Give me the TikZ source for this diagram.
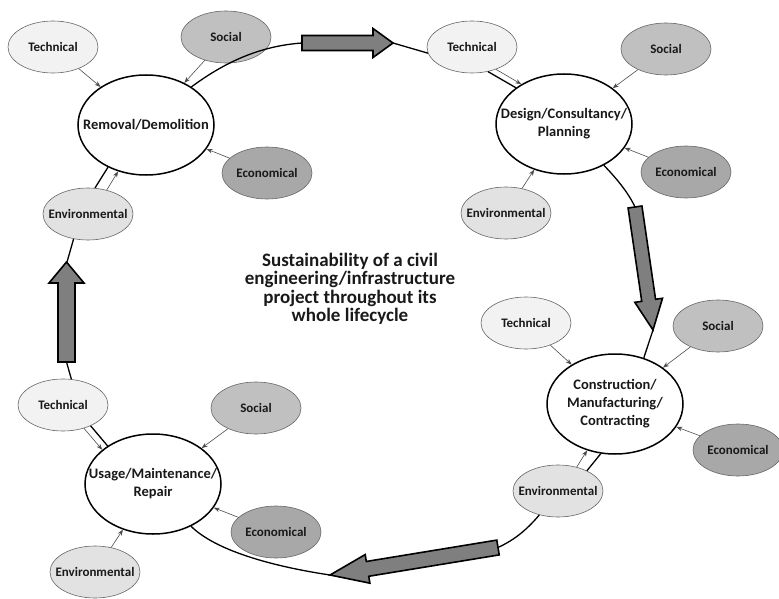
\documentclass[tikz,border=0pt]{standalone}
\usepackage{fontspec}
\setmainfont{Carlito}
\usetikzlibrary{shapes.geometric,arrows.meta}
\definecolor{techc}{HTML}{F2F2F2}
\definecolor{envc}{HTML}{E2E2E2}
\definecolor{socc}{HTML}{C0C0C0}
\definecolor{ecoc}{HTML}{A8A8A8}
\definecolor{arrc}{HTML}{7F7F7F}
\tikzset{
  mainell/.style={ellipse, draw=black, line width=1.5pt, fill=white, minimum width=136pt, minimum height=100pt, inner sep=0pt},
  mainlbl/.style={font=\fontsize{14.5}{18}\selectfont\bfseries, align=center, text=black!90},
  sat/.style={ellipse, draw=black!60, line width=0.6pt, minimum width=90pt, minimum height=52pt, inner sep=0pt},
  satlbl/.style={font=\fontsize{13}{15}\selectfont\bfseries, text=black!90},
  tech/.style={sat, fill=techc},
  soc/.style={sat, fill=socc},
  eco/.style={sat, fill=ecoc},
  env/.style={sat, fill=envc},
  cyc/.style={draw=black, line width=1.3pt},
  infl/.style={draw=black!70, line width=0.6pt, -{Stealth[length=6pt,width=4.5pt]}},
  blockarr/.style={draw=black, line width=1.6pt, fill=arrc, line join=miter}
}
\begin{document}
\begin{tikzpicture}[x=1pt,y=-1pt]
\useasboundingbox (0,0) rectangle (779,599);

% main stages
\node[mainell, label={[mainlbl]center:Removal/Demolition}] (rem) at (146,125) {};
\node[mainell, label={[mainlbl]center:Design/Consultancy/\\Planning}] (des) at (564,124) {};
\node[mainell, label={[mainlbl]center:Construction/\\Manufacturing/\\Contracting}] (con) at (615,404) {};
\node[mainell, label={[mainlbl]center:Usage/Maintenance/\\Repair}] (use) at (153,484) {};

% satellites: removal
\node[tech, label={[satlbl]center:Technical}] (rtech) at (53,47) {};
\node[soc, label={[satlbl]center:Social}] (rsoc) at (226,37) {};
\node[eco, label={[satlbl]center:Economical}] (reco) at (267,173) {};
\node[env, label={[satlbl]center:Environmental}] (renv) at (88,214) {};
% design
\node[tech, label={[satlbl]center:Technical}] (dtech) at (472,47) {};
\node[soc, label={[satlbl]center:Social}] (dsoc) at (666,49) {};
\node[eco, label={[satlbl]center:Economical}] (deco) at (686,172) {};
\node[env, label={[satlbl]center:Environmental}] (denv) at (506,213) {};
% construction
\node[tech, label={[satlbl]center:Technical}] (ctech) at (526,323) {};
\node[soc, label={[satlbl]center:Social}] (csoc) at (718,326) {};
\node[eco, label={[satlbl]center:Economical}] (ceco) at (738,450) {};
\node[env, label={[satlbl]center:Environmental}] (cenv) at (558,491) {};
% usage
\node[tech, label={[satlbl]center:Technical}] (utech) at (63,405) {};
\node[soc, label={[satlbl]center:Social}] (usoc) at (256,408) {};
\node[eco, label={[satlbl]center:Economical}] (ueco) at (276,532) {};
\node[env, label={[satlbl]center:Environmental}] (uenv) at (95,572) {};

% centre text
\node[font=\fontsize{19}{18.5}\selectfont\bfseries, align=center, text=black!90] (title) at (350,289)
  {Sustainability of a civil\\engineering/infrastructure\\project throughout its\\whole lifecycle};

% block arrows
\coordinate (tailT) at (302,43);   \coordinate (tipT) at (393,43);
\coordinate (tailR) at (635,207);  \coordinate (tipR) at (653,330);
\coordinate (tailB) at (498,547.5);\coordinate (tipB) at (330,575);
\coordinate (tailL) at (66.5,362); \coordinate (tipL) at (67,262);
\begin{scope}[shift={(tailT)}]
  \draw[blockarr] (0,7.5) -- (71,7.5) -- (71,14.5) -- (91,0) -- (71,-14.5) -- (71,-7.5) -- (0,-7.5) -- cycle;
\end{scope}
\begin{scope}[shift={(tailR)}, rotate=-81.67]
  \draw[blockarr] (0,7) -- (94.3,7) -- (94.3,14) -- (124.3,0) -- (94.3,-14) -- (94.3,-7) -- (0,-7) -- cycle;
\end{scope}
\begin{scope}[shift={(tailB)}, rotate=-170.7]
  \draw[blockarr] (0,7.5) -- (132.2,7.5) -- (132.2,14.5) -- (170.2,0) -- (132.2,-14.5) -- (132.2,-7.5) -- (0,-7.5) -- cycle;
\end{scope}
\begin{scope}[shift={(tailL)}, rotate=90]
  \draw[blockarr] (0,8.5) -- (79,8.5) -- (79,17.5) -- (100,0) -- (79,-17.5) -- (79,-8.5) -- (0,-8.5) -- cycle;
\end{scope}

% lifecycle connectors
\draw[cyc] (rem.40) .. controls (225,62) and (260,46) .. (tailT);
\draw[cyc] (tipT) -- (dtech.188);
\draw[cyc] (dtech.-57) -- (des.143);
\draw[cyc] (des.-46) .. controls (616,178) and (628,192) .. (tailR);
\draw[cyc] (tipR) -- (con.58);
\draw[cyc] (con.-106) -- (cenv.35);
\draw[cyc] (cenv.-128) .. controls (525,532) and (512,541) .. (tailB);
\draw[cyc] (tipB) .. controls (270,566) and (215,550) .. (use.-48);
\draw[cyc] (use.140) -- (utech.-37);
\draw[cyc] (utech.72) -- (tailL);
\draw[cyc] (tipL) -- (renv.-120);
\draw[cyc] (renv.75) -- (rem.-132);

% influences
\draw[infl] (rtech) -- (rem);
\draw[infl] (rsoc) -- (rem);
\draw[infl] (reco) -- (rem);
\draw[infl] (renv.52) -- (rem.-121);
\draw[infl] (dtech.-43) -- (des.137);
\draw[infl] (dsoc) -- (des);
\draw[infl] (deco) -- (des);
\draw[infl] (denv) -- (des);
\draw[infl] (ctech) -- (con);
\draw[infl] (csoc) -- (con);
\draw[infl] (ceco) -- (con);
\draw[infl] (cenv.52) -- (con.-121);
\draw[infl] (utech.-48) -- (use.146);
\draw[infl] (usoc) -- (use);
\draw[infl] (ueco) -- (use);
\draw[infl] (uenv) -- (use);
\end{tikzpicture}
\end{document}
